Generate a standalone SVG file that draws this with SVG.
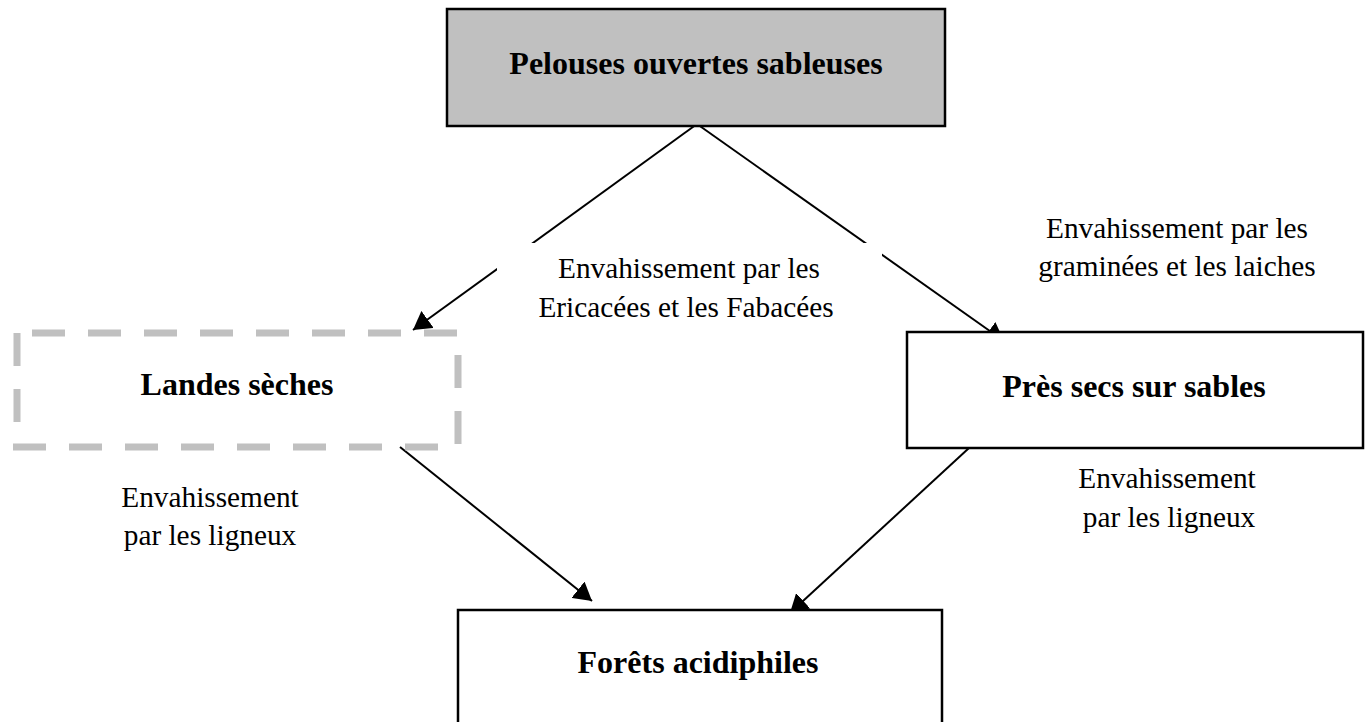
<svg xmlns="http://www.w3.org/2000/svg" width="1365" height="722" viewBox="0 0 1365 722">
  <style>
    .box { fill: #ffffff; stroke: #000000; stroke-width: 2.5; }
    .grey { fill: #c0c0c0; }
    .dash { fill: none; stroke: #c0c0c0; stroke-width: 7; stroke-dasharray: 33 23; stroke-linecap: butt; }
    .title { font-family: "Liberation Serif", "Times New Roman", serif; font-weight: bold; font-size: 32px; fill: #000000; text-anchor: middle; }
    .lbl { font-family: "Liberation Serif", "Times New Roman", serif; font-size: 29.3px; fill: #000000; text-anchor: middle; }
    .conn { stroke: #000000; stroke-width: 2; fill: none; marker-end: url(#arrow); }
  </style>
  <defs>
    <marker id="arrow" markerUnits="userSpaceOnUse" markerWidth="18" markerHeight="21" refX="18" refY="10.5" orient="auto">
      <path d="M0,0 L18,10.5 L0,21 z" fill="#000000"/>
    </marker>
  </defs>
  <rect width="1365" height="722" fill="#ffffff"/>

  <g id="connectors">
    <line class="conn" x1="697" y1="124" x2="413" y2="330"/>
    <line class="conn" x1="697" y1="124" x2="1004" y2="341"/>
    <line class="conn" x1="400" y1="447" x2="592" y2="601"/>
    <line class="conn" x1="969" y1="448" x2="790" y2="613"/>
  </g>

  <g id="label-ericacees">
    <rect x="497" y="243" width="385" height="85" fill="#ffffff"/>
    <text class="lbl" x="689" y="278">Envahissement par les</text>
    <text class="lbl" x="686" y="317">Ericacées et les Fabacées</text>
  </g>
  <g id="label-graminees">
    <text class="lbl" x="1177" y="238">Envahissement par les</text>
    <text class="lbl" x="1177" y="276">graminées et les laiches</text>
  </g>
  <g id="label-ligneux-left">
    <text class="lbl" x="210" y="507">Envahissement</text>
    <text class="lbl" x="210" y="545">par les ligneux</text>
  </g>
  <g id="label-ligneux-right">
    <text class="lbl" x="1167" y="488">Envahissement</text>
    <text class="lbl" x="1169" y="527">par les ligneux</text>
  </g>

  <g id="node-pelouses">
    <rect class="box grey" x="447" y="9" width="498" height="117"/>
    <text class="title" x="696" y="74">Pelouses ouvertes sableuses</text>
  </g>

  <g id="node-landes">
    <line class="dash" x1="32" y1="333" x2="458" y2="333"/>
    <line class="dash" x1="17" y1="333" x2="17" y2="447"/>
    <line class="dash" x1="13" y1="447" x2="458" y2="447"/>
    <line class="dash" x1="458" y1="355" x2="458" y2="447"/>
    <text class="title" x="237" y="395">Landes sèches</text>
  </g>

  <g id="node-pres">
    <rect class="box" x="907" y="332" width="456" height="116"/>
    <text class="title" x="1134" y="397">Près secs sur sables</text>
  </g>

  <g id="node-forets">
    <rect class="box" x="458" y="610" width="484" height="130"/>
    <text class="title" x="698" y="673">Forêts acidiphiles</text>
  </g>
</svg>
